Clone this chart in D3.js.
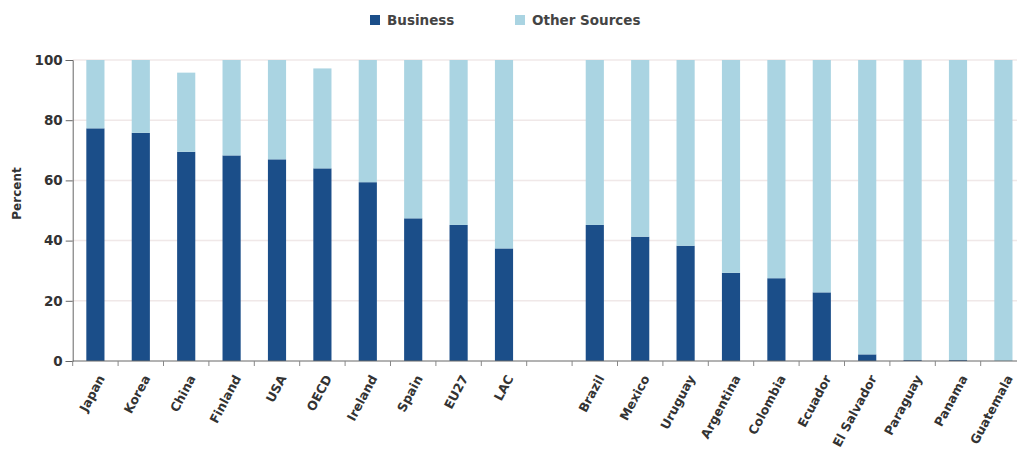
<!DOCTYPE html>
<html>
<head>
<meta charset="utf-8">
<script src="https://cdn.jsdelivr.net/npm/d3@7"></script>
<style>
  body { margin: 0; background: #fff; }
  svg { font-family: "DejaVu Sans", sans-serif; }
</style>
</head>
<body>
<div id="chart"></div>
<script>
// categories (empty string = gap between the two groups)
const countries = ["Japan","Korea","China","Finland","USA","OECD","Ireland","Spain","EU27","LAC","",
  "Brazil","Mexico","Uruguay","Argentina","Colombia","Ecuador","El Salvador","Paraguay","Panama","Guatemala"]
const business = [77.3,75.8,69.5,68.3,67,64,59.4,47.4,45.2,37.4,null,
  45.2,41.3,38.3,29.3,27.5,22.8,2.2,0.3,0.3,0]
const otherSources = [22.7,24.2,26.3,31.7,33,33.2,40.6,52.6,54.8,62.6,null,
  54.8,58.7,61.7,70.7,72.5,77.2,97.8,99.7,99.7,100]
const yTicks = [0,20,40,60,80,100]
const seriesNames = ["Business","Other Sources"]
const colors = ["#1b4e89","#aad4e2"]

const W = 1017, H = 452
const margin = {top:60, left:72.7, bottom:91}
const height = H - margin.top - margin.bottom
const step = 45.4

const x = d3.scaleBand()
  .domain(d3.range(countries.length))
  .range([0, step*countries.length])
  .paddingInner(0.6)
  .paddingOuter(0.3)
const y = d3.scaleLinear().domain([0,100]).range([height,0])

const svg = d3.select("#chart")
  .append("svg")
    .attr("width", W)
    .attr("height", H)

const g = svg.append("g")
  .attr("transform","translate(" + margin.left + "," + margin.top + ")")

// grid
g.selectAll(null)
  .data(yTicks.filter(d => d > 0))
  .enter()
  .append("line")
  .attr("x1",0)
  .attr("x2",W)
  .attr("y1",d=>y(d))
  .attr("y2",d=>y(d))
  .style("stroke","#f0e8e8")
  .style("stroke-width",1.5)

// stacked bars
const rows = countries.map((c,i) => ({i:i, business:business[i], other:otherSources[i]}))
  .filter(d => d.business !== null)
const stack = d3.stack().keys(["business","other"])(rows)

g.selectAll(null)
  .data(stack)
  .enter()
  .append("g")
  .style("fill",(d,k)=>colors[k])
  .selectAll("rect")
  .data(d=>d)
  .enter()
  .append("rect")
    .attr("x", d=>x(d.data.i))
    .attr("width", x.bandwidth())
    .attr("y", d=>y(d[1]))
    .attr("height", d=>y(d[0]) - y(d[1]))

// y axis
const yAxis = g.append("g")
  .call(d3.axisLeft(y).tickValues(yTicks).tickSize(7).tickPadding(3))
yAxis.select(".domain").style("stroke","#666")
yAxis.selectAll(".tick line").style("stroke","#666")
yAxis.selectAll("text")
  .style("font-family","'DejaVu Sans', sans-serif")
  .style("font-size","13.5px")
  .style("font-weight","bold")
  .style("fill","#333")

g.append("text")
  .attr("transform","rotate(-90)")
  .attr("x", -height/2 + 17)
  .attr("y", -52)
  .attr("text-anchor","middle")
  .style("font-size","12px")
  .style("font-weight","bold")
  .style("fill","#333")
  .text("Percent")

// x axis: line, boundary ticks, rotated labels
const xg = g.append("g").attr("transform","translate(0," + height + ")")
xg.append("line")
  .attr("x1",0).attr("x2",W)
  .style("stroke","#666")
xg.selectAll(null)
  .data(d3.range(countries.length + 1))
  .enter()
  .append("line")
  .attr("x1",d=>d*x.step())
  .attr("x2",d=>d*x.step())
  .attr("y1",0).attr("y2",5)
  .style("stroke","#888")
xg.selectAll(null)
  .data(countries.map((c,i)=>({c:c,i:i})).filter(d=>d.c))
  .enter()
  .append("text")
  .attr("transform", d=>"translate(" + (x(d.i) + x.bandwidth()/2 + 6) + ",15) rotate(-62)")
  .attr("text-anchor","end")
  .attr("dy","0.35em")
  .style("font-size","12.5px")
  .style("font-weight","bold")
  .style("fill","#333")
  .text(d=>d.c)

// legend
const legendX = [370, 515]
const legend = svg.selectAll(null)
  .data(seriesNames)
  .enter()
  .append("g")
  .attr("transform",(d,i)=>"translate(" + legendX[i] + ",15)")
legend.append("rect")
  .attr("width",10).attr("height",10)
  .style("fill",(d,i)=>colors[i])
legend.append("text")
  .attr("x",17).attr("y",5).attr("dy","0.35em")
  .style("font-size","13.5px")
  .style("font-weight","bold")
  .style("fill","#444")
  .text(d=>d)
</script>
</body>
</html>
